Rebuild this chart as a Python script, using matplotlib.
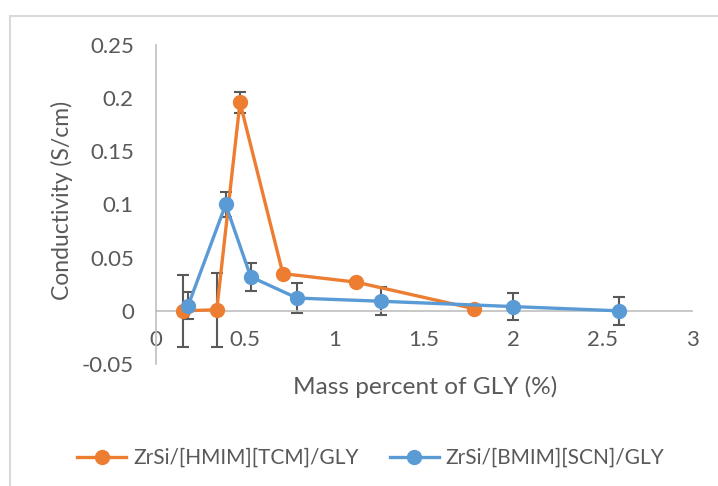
import matplotlib
matplotlib.use("Agg")
import matplotlib.pyplot as plt
from matplotlib.patches import Rectangle

plt.rcParams['font.family'] = ['Lato', 'DejaVu Sans']

# ZrSi/[HMIM][TCM]/GLY
hmim_x = [0.15, 0.34, 0.47, 0.71, 1.12, 1.78]
hmim_y = [0.0, 0.001, 0.196, 0.035, 0.027, 0.002]
hmim_err = [0.034, 0.035, 0.010, 0.0, 0.0, 0.0]

# ZrSi/[BMIM][SCN]/GLY
bmim_x = [0.18, 0.39, 0.53, 0.79, 1.26, 2.0, 2.59]
bmim_y = [0.005, 0.100, 0.032, 0.012, 0.009, 0.004, 0.0]
bmim_err = [0.013, 0.012, 0.013, 0.014, 0.013, 0.013, 0.013]

x_ticks = [0, 0.5, 1, 1.5, 2, 2.5, 3]
x_labels = ["0", "0.5", "1", "1.5", "2", "2.5", "3"]
y_ticks = [-0.05, 0, 0.05, 0.1, 0.15, 0.2, 0.25]
y_labels = ["-0.05", "0", "0.05", "0.1", "0.15", "0.2", "0.25"]

W, H = 718, 486
fig = plt.figure(figsize=(W / 100, H / 100), dpi=100)
ax = fig.add_axes([156 / W, 1 - 364 / H, 536 / W, 319 / H])

txt = "#595959"
grey = "#BFBFBF"
orange = "#ED7D31"
blue = "#5B9BD5"

# error bars below the markers
ax.errorbar(hmim_x, hmim_y, yerr=hmim_err, fmt="none", ecolor=txt,
            elinewidth=1.5, capsize=4, capthick=1.5, zorder=2)
ax.errorbar(bmim_x, bmim_y, yerr=bmim_err, fmt="none", ecolor=txt,
            elinewidth=1.5, capsize=4, capthick=1.5, zorder=2)

ax.plot(hmim_x, hmim_y, color=orange, lw=2.4, marker="o", ms=10,
        label="ZrSi/[HMIM][TCM]/GLY", zorder=3)
ax.plot(bmim_x, bmim_y, color=blue, lw=2.4, marker="o", ms=10,
        label="ZrSi/[BMIM][SCN]/GLY", zorder=4)

ax.set_xlim(0, 3)
ax.set_ylim(-0.05, 0.25)
ax.set_xticks(x_ticks, x_labels)
ax.set_yticks(y_ticks, y_labels)

for s in ["top", "right"]:
    ax.spines[s].set_visible(False)
ax.spines["left"].set_color(grey)
ax.spines["bottom"].set_color(grey)
ax.spines["left"].set_linewidth(1.2)
ax.spines["bottom"].set_linewidth(1.2)
ax.spines["bottom"].set_position(("data", 0))

ax.tick_params(axis="x", length=0, pad=14, labelsize=16, labelcolor=txt)
ax.tick_params(axis="y", length=0, pad=16, labelsize=16, labelcolor=txt)

fig.text(425 / W, 1 - 387 / H, "Mass percent of GLY (%)", ha="center",
         va="center", fontsize=17.6, color=txt)
fig.text(62 / W, 1 - 200 / H, "Conductivity (S/cm)", ha="center",
         va="center", rotation=90, fontsize=16.5, color=txt)

fig.legend(loc="center", bbox_to_anchor=(371 / W, 1 - 458 / H), ncol=2,
           frameon=False, fontsize=15, labelcolor=txt, handlelength=2.35,
           handletextpad=0.33, columnspacing=1.5)

# chart border
fig.patches.append(Rectangle((10 / W, -0.1), 1.2, 1.1 - 16 / H,
                             transform=fig.transFigure, fill=False,
                             edgecolor="#D9D9D9", lw=1.5))

fig.savefig("out.png", dpi=100)
